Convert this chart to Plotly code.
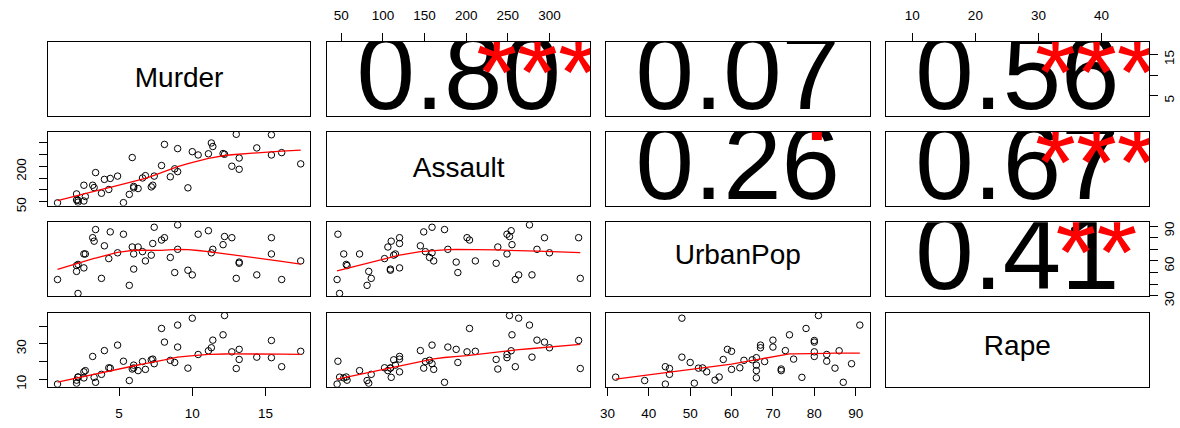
import math
import numpy as np
import plotly.graph_objects as go

# ---------------- data (USArrests) ----------------
variables = ["Murder", "Assault", "UrbanPop", "Rape"]
murder = [13.2, 10.0, 8.1, 8.8, 9.0, 7.9, 3.3, 5.9, 15.4, 17.4, 5.3, 2.6, 10.4, 7.2, 2.2,
          6.0, 9.7, 15.4, 2.1, 11.3, 4.4, 12.1, 2.7, 16.1, 9.0, 6.0, 4.3, 12.2, 2.1, 7.4,
          11.4, 11.1, 13.0, 0.8, 7.3, 6.6, 4.9, 6.3, 3.4, 14.4, 3.8, 13.2, 12.7, 3.2, 2.2,
          8.5, 4.0, 5.7, 2.6, 6.8]
assault = [236, 263, 294, 190, 276, 204, 110, 238, 335, 211, 46, 120, 249, 113, 56,
           115, 109, 249, 83, 300, 149, 255, 72, 259, 178, 109, 102, 252, 57, 159,
           285, 254, 337, 45, 120, 151, 159, 106, 174, 279, 86, 188, 201, 120, 48,
           156, 145, 81, 53, 161]
urbanpop = [58, 48, 80, 50, 91, 78, 77, 72, 80, 60, 83, 54, 83, 65, 57,
            66, 52, 66, 51, 67, 85, 74, 66, 44, 70, 53, 62, 81, 56, 89,
            70, 86, 45, 44, 75, 68, 67, 72, 87, 48, 45, 59, 80, 80, 32,
            63, 73, 39, 66, 60]
rape = [21.2, 44.5, 31.0, 19.5, 40.6, 38.7, 11.1, 15.8, 31.9, 25.8, 20.2, 14.2, 24.0, 21.0, 11.3,
        18.0, 16.3, 22.2, 7.8, 27.8, 16.3, 35.1, 14.9, 17.1, 28.2, 16.4, 16.5, 46.0, 9.5, 18.8,
        32.1, 26.1, 16.1, 7.3, 21.4, 20.0, 29.3, 14.9, 8.3, 22.5, 12.8, 26.9, 25.5, 22.9, 11.2,
        20.7, 26.2, 9.3, 10.8, 15.6]
series = [murder, assault, urbanpop, rape]

tick_values = {
    "Murder": [5, 10, 15],
    "Assault": [50, 100, 150, 200, 250, 300],
    "UrbanPop": [30, 40, 50, 60, 70, 80, 90],
    "Rape": [10, 20, 30, 40],
}
# horizontal axes (all labels shown)
tick_labels_h = {
    "Murder": ["5", "10", "15"],
    "Assault": ["50", "100", "150", "200", "250", "300"],
    "UrbanPop": ["30", "40", "50", "60", "70", "80", "90"],
    "Rape": ["10", "20", "30", "40"],
}
# vertical axes (labels dropped for overlap, as in the reference)
tick_labels_v = {
    "Murder": ["5", "", "15"],
    "Assault": ["50", "", "", "200", "", ""],
    "UrbanPop": ["30", "", "", "60", "", "", "90"],
    "Rape": ["10", "", "30", ""],
}

# ---------------- layout constants ----------------
W, H = 1180, 428
col_px = [(42, 306), (323, 587), (603, 868), (884, 1149)]
row_px = [(42, 118), (134, 210), (227, 303), (320, 396)]
FONT = "Liberation Sans, Arial, Helvetica, sans-serif"
NUM_FS = 105
LAB_FS = 28
TICK_FS = 13.5
BASE_SHIFT = 0.32
INK_CENTER = {"digits": 0.358, "***": 0.575, "**": 0.575, "*": 0.575, ".": 0.0, " ": 0.3}


def padded(v):
    lo, hi = min(v), max(v)
    d = (hi - lo) * 0.04
    return [lo - d, hi + d]


ranges = [padded(s) for s in series]


# ---------------- R's lowess (as used by panel.smooth) ----------------
def _lowest(x, y, n, xs, nleft, nright, userw, rw):
    rng = x[n - 1] - x[0]
    h = max(xs - x[nleft], x[nright] - xs)
    h9, h1 = 0.999 * h, 0.001 * h
    w = np.zeros(n)
    a = 0.0
    j = nleft
    while j < n:
        r = abs(x[j] - xs)
        if r <= h9:
            w[j] = 1.0 if r <= h1 else (1 - (r / h) ** 3) ** 3
            if userw:
                w[j] *= rw[j]
            a += w[j]
        elif x[j] > xs:
            break
        j += 1
    nrt = j - 1
    if a <= 0:
        return 0.0, False
    sl = slice(nleft, nrt + 1)
    w[sl] /= a
    if h > 0:
        a = np.sum(w[sl] * x[sl])
        b = xs - a
        c = np.sum(w[sl] * (x[sl] - a) ** 2)
        if math.sqrt(c) > 0.001 * rng:
            b /= c
            w[sl] *= (b * (x[sl] - a) + 1)
    return float(np.sum(w[sl] * y[sl])), True


def r_lowess(xv, yv, f=2 / 3, nsteps=3):
    xv = np.asarray(xv, float)
    yv = np.asarray(yv, float)
    order = np.argsort(xv, kind="stable")
    x, y = xv[order], yv[order]
    n = len(x)
    delta = 0.01 * (x[-1] - x[0])
    ns = max(min(int(f * n + 1e-7), n), 2)
    ys = np.zeros(n)
    rw = np.ones(n)
    it = 1
    while it <= nsteps + 1:
        nleft, nright, last, i = 0, ns - 1, -1, 0
        while True:
            if nright < n - 1:
                d1 = x[i] - x[nleft]
                d2 = x[nright + 1] - x[i]
                if d1 > d2:
                    nleft += 1
                    nright += 1
                    continue
            val, ok = _lowest(x, y, n, x[i], nleft, nright, it > 1, rw)
            ys[i] = val if ok else y[i]
            if last < i - 1:
                denom = x[i] - x[last]
                for j in range(last + 1, i):
                    alpha = (x[j] - x[last]) / denom
                    ys[j] = alpha * ys[i] + (1 - alpha) * ys[last]
            last = i
            cut = x[last] + delta
            i = last + 1
            while i < n:
                if x[i] > cut:
                    break
                if x[i] == x[last]:
                    ys[i] = ys[last]
                    last = i
                i += 1
            i = max(last + 1, i - 1)
            if last >= n - 1:
                break
        res = y - ys
        sc = np.sum(np.abs(res)) / n
        if it > nsteps:
            break
        r = np.abs(res)
        srt = np.sort(r)
        m1 = n // 2
        cmad = 3 * (srt[m1] + srt[m1 - 1]) if n % 2 == 0 else 6 * srt[m1]
        if cmad < 1e-7 * sc:
            break
        c9, c1 = 0.999 * cmad, 0.001 * cmad
        rw = np.where(r <= c1, 1.0, np.where(r <= c9, (1 - (r / cmad) ** 2) ** 2, 0.0))
        it += 1
    return x, ys


# ---------------- correlation test ----------------
def cor_p(a, b):
    a = np.asarray(a, float)
    b = np.asarray(b, float)
    r = float(np.corrcoef(a, b)[0, 1])
    df = len(a) - 2
    t = abs(r) * math.sqrt(df / (1 - r * r))
    c = math.exp(math.lgamma((df + 1) / 2) - math.lgamma(df / 2)) / math.sqrt(df * math.pi)
    grid = np.linspace(t, t + 80, 400001)
    dens = c * (1 + grid ** 2 / df) ** (-(df + 1) / 2)
    tail = float(np.sum((dens[1:] + dens[:-1]) * np.diff(grid)) / 2)
    return r, 2 * tail


def signif(p):
    if p <= 0.001:
        return "***"
    if p <= 0.01:
        return "**"
    if p <= 0.05:
        return "*"
    if p <= 0.1:
        return "."
    return " "


def frac_to_y(i, baseline_px, fs):
    top, bot = row_px[i]
    anchor_px = baseline_px - BASE_SHIFT * fs
    fy = (bot - anchor_px) / (bot - top)
    lo, hi = ranges[i]
    return lo + fy * (hi - lo)


def frac_x(j, fx):
    lo, hi = ranges[j]
    return lo + fx * (hi - lo)


fig = go.Figure()
layout = {}

for i in range(4):
    for j in range(4):
        k = i * 4 + j + 1
        xa, ya = f"x{k}", f"y{k}"
        top, bot = row_px[i]
        ph = bot - top
        if i > j:
            fig.add_trace(go.Scatter(
                x=series[j], y=series[i], mode="markers", xaxis=xa, yaxis=ya,
                marker=dict(symbol="circle-open", size=6.5, color="black", line=dict(width=1, color="black")),
                hoverinfo="skip"))
            lx, ly = r_lowess(series[j], series[i])
            fig.add_trace(go.Scatter(
                x=lx, y=ly, mode="lines", xaxis=xa, yaxis=ya,
                line=dict(color="#FF0000", width=1.3), hoverinfo="skip"))
        elif i == j:
            name = variables[i]
            desc = 0.21 if any(ch in "gjpqy" for ch in name) else 0.0
            base = top + 0.5 * ph + (0.716 - desc) / 2 * LAB_FS
            fig.add_trace(go.Scatter(
                x=[frac_x(j, 0.5)], y=[frac_to_y(i, base, LAB_FS)], mode="text", text=[name],
                textposition="middle center", xaxis=xa, yaxis=ya,
                textfont=dict(family=FONT, size=LAB_FS, color="black"), hoverinfo="skip"))
        else:
            r, p = cor_p(series[i], series[j])
            txt = f"{r:.2f}"
            base = top + 0.5 * ph + INK_CENTER["digits"] * NUM_FS
            fig.add_trace(go.Scatter(
                x=[frac_x(j, 0.5)], y=[frac_to_y(i, base, NUM_FS)], mode="text", text=[txt],
                textposition="middle center", xaxis=xa, yaxis=ya, cliponaxis=True,
                textfont=dict(family=FONT, size=NUM_FS, color="black"), hoverinfo="skip"))
            s = signif(p)
            if s.strip():
                sbase = top + 0.2 * ph + INK_CENTER[s] * NUM_FS
                fig.add_trace(go.Scatter(
                    x=[frac_x(j, 0.8)], y=[frac_to_y(i, sbase, NUM_FS)], mode="text", text=[s],
                    textposition="middle center", xaxis=xa, yaxis=ya, cliponaxis=True,
                    textfont=dict(family=FONT, size=NUM_FS, color="#FF0000"), hoverinfo="skip"))

        base_ax = dict(showline=True, mirror=True, linecolor="black", linewidth=1,
                       showgrid=False, zeroline=False, ticks="", showticklabels=False,
                       tickfont=dict(family=FONT, size=TICK_FS, color="black"),
                       ticklen=8, tickwidth=1, tickcolor="black")
        xd = dict(base_ax, domain=[col_px[j][0] / W, col_px[j][1] / W],
                  range=ranges[j], anchor=ya)
        yd = dict(base_ax, domain=[1 - bot / H, 1 - top / H],
                  range=ranges[i], anchor=xa)
        vx = variables[j]
        vy = variables[i]
        if i == 0 and j in (1, 3):
            xd.update(side="top", ticks="outside", showticklabels=True, ticklabelstandoff=8,
                      tickvals=tick_values[vx], ticktext=tick_labels_h[vx])
        if i == 3 and j in (0, 2):
            xd.update(side="bottom", ticks="outside", showticklabels=True, ticklabelstandoff=6,
                      tickvals=tick_values[vx], ticktext=tick_labels_h[vx])
        if j == 0 and i in (1, 3):
            yd.update(side="left", ticks="outside", showticklabels=True, tickangle=-90,
                      ticklabelstandoff=7, ticklabelshift=5,
                      tickvals=tick_values[vy], ticktext=tick_labels_v[vy])
        if j == 3 and i in (0, 2):
            yd.update(side="right", ticks="outside", showticklabels=True, tickangle=-90,
                      ticklabelshift=5,
                      tickvals=tick_values[vy], ticktext=tick_labels_v[vy])
        sx = "" if k == 1 else str(k)
        layout[f"xaxis{sx}"] = xd
        layout[f"yaxis{sx}"] = yd

fig.update_layout(**layout)
fig.update_layout(autosize=True, margin=dict(l=0, r=0, t=0, b=0),
                  paper_bgcolor="white", plot_bgcolor="white", showlegend=False,
                  font=dict(family=FONT, color="black"))
fig.write_html("out.html",
               config={"displayModeBar": False},
               default_width="100vw", default_height="100vh",
               post_script="document.body.style.margin='0px';"
                           "document.body.style.overflow='hidden';"
                           "document.documentElement.style.overflow='hidden';")
